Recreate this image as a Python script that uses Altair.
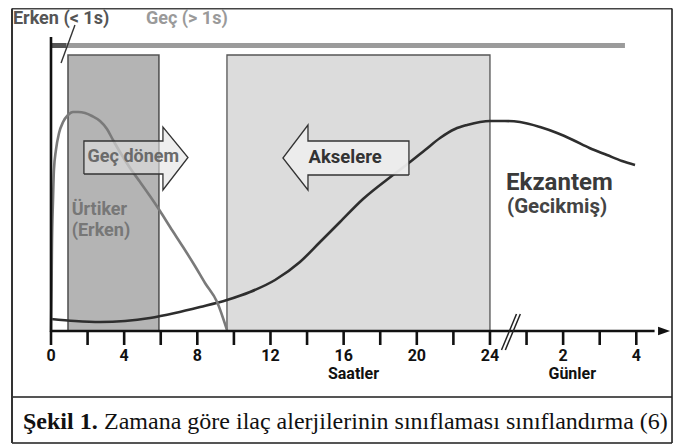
import altair as alt
import pandas as pd

# ---- values ----
# x: hours (0-24); after the axis break the days are drawn 2 units per day after 24
# y: relative intensity of the reaction
urt_x = [0, 0.03, 0.05, 0.11, 0.16, 0.27, 0.44, 0.66, 0.93, 1.20, 1.48, 1.86, 2.24,
         2.68, 3.06, 3.39, 3.77, 4.32, 4.87, 5.41, 5.96, 6.51, 7.22, 7.87, 8.42, 9.08, 9.62]
urt_y = [0, 41, 81, 131, 161, 181, 198, 209, 216, 219, 219, 218, 215,
         210, 202, 191, 179, 163, 149, 135, 120, 104, 84, 65, 48, 29, 1]

ekz_x = [0, 1.31, 2.68, 4.05, 5.41, 6.78, 8.15, 9.62, 10.88, 12.25, 13.61, 14.71, 15.80,
         17.06, 18.70, 19.63, 20.45, 21.27, 22.09, 22.75, 23.46, 24.0, 24.82, 25.64,
         26.74, 27.67, 28.54, 29.44, 30.40, 31.22, 31.93]
ekz_y = [12, 10, 9, 10, 13, 18, 24, 31, 39, 51, 69, 89, 109,
         132, 156, 169, 181, 193, 202, 206, 209, 210, 210, 209,
         204, 198, 191, 183, 176, 170, 166]

tick_pos = [0, 2, 4, 6, 8, 10, 12, 14, 16, 18, 20, 22, 24, 26, 28, 30, 32]
label_pos = [0, 4, 8, 12, 16, 20, 24, 28, 32]
label_txt = ["0", "4", "8", "12", "16", "20", "24", "2", "4"]

phase_names = ["Ürtiker", "Akselere"]
phase_start = [0.93, 9.62]
phase_end = [5.90, 24.0]
phase_top = 276

# ---- scales ----
xs = alt.Scale(domain=[-2.351, 34.007], nice=False, zero=False)
ys = alt.Scale(domain=[-114, 323], nice=False, zero=False)
X = lambda f: alt.X(f, type="quantitative", scale=xs, axis=None)
Y = lambda f: alt.Y(f, type="quantitative", scale=ys, axis=None)


def hrule(x1, x2, y, color, w, cap="butt"):
    df = pd.DataFrame({"x": [x1], "x2": [x2], "y": [y]})
    return alt.Chart(df).mark_rule(color=color, strokeWidth=w, strokeCap=cap).encode(
        x=X("x"), x2="x2", y=Y("y"))


def seg(x1, y1, x2, y2, color, w):
    df = pd.DataFrame({"x": [x1], "x2": [x2], "y": [y1], "y2": [y2]})
    return alt.Chart(df).mark_rule(color=color, strokeWidth=w).encode(
        x=X("x"), x2="x2", y=Y("y"), y2="y2")


def label(txt, x, y, size, color, align="left", weight="bold", font="Roboto"):
    df = pd.DataFrame({"x": [x], "y": [y], "t": [txt]})
    return alt.Chart(df).mark_text(align=align, baseline="middle", fontSize=size,
                                   font=font, fontWeight=weight, color=color).encode(
        x=X("x"), y=Y("y"), text="t:N")


# ---- phase rectangles ----
ph = pd.DataFrame({"name": phase_names, "x": phase_start, "x2": phase_end,
                   "y": [0, 0], "y2": [phase_top, phase_top]})
rect_dark = alt.Chart(ph[ph.name == "Ürtiker"]).mark_rect(
    fill="#b4b4b4", stroke="#555555", strokeWidth=1.6).encode(
    x=X("x"), x2="x2", y=Y("y"), y2="y2")
rect_light = alt.Chart(ph[ph.name == "Akselere"]).mark_rect(
    fill="#dcdcdc", stroke="#555555", strokeWidth=1.3).encode(
    x=X("x"), x2="x2", y=Y("y"), y2="y2")

# ---- curves ----
urt = alt.Chart(pd.DataFrame({"x": urt_x, "y": urt_y})).mark_line(
    color="#7a7a7a", strokeWidth=2.6, interpolate="monotone").encode(x=X("x"), y=Y("y"))
ekz = alt.Chart(pd.DataFrame({"x": ekz_x, "y": ekz_y})).mark_line(
    color="#2e2e2e", strokeWidth=2.6, interpolate="monotone").encode(x=X("x"), y=Y("y"))


# ---- block arrows ----
def block_arrow(x0, x1, tip, b_lo, b_hi, h_lo, h_hi, fill, op):
    mid = (b_lo + b_hi) / 2
    if tip > x1:
        area_df = pd.DataFrame({"x": [x0, x1, x1 + 0.001, tip],
                                "y": [b_lo, b_lo, h_lo, mid], "y2": [b_hi, b_hi, h_hi, mid]})
    else:
        area_df = pd.DataFrame({"x": [tip, x1 - 0.001, x1, x0],
                                "y": [mid, h_lo, b_lo, b_lo], "y2": [mid, h_hi, b_hi, b_hi]})
    outline = [(x0, b_lo), (x1, b_lo), (x1, h_lo), (tip, mid), (x1, h_hi),
               (x1, b_hi), (x0, b_hi), (x0, b_lo)]
    area = alt.Chart(area_df).mark_area(color=fill, opacity=op, interpolate="linear").encode(
        x=X("x"), y=Y("y"), y2="y2")
    ol = pd.DataFrame({"x": [p[0] for p in outline], "y": [p[1] for p in outline],
                       "o": list(range(len(outline)))})
    line = alt.Chart(ol).mark_line(color="#333333", strokeWidth=1.3).encode(
        x=X("x"), y=Y("y"), order="o:Q")
    return area + line


arrow_late = block_arrow(1.80, 6.12, 7.49, 157, 190, 141, 204, "#e2e2e2", 0.6)
arrow_acc = block_arrow(19.57, 14.05, 12.68, 156, 190, 141, 206, "#ececec", 0.95)

# ---- axes ----
ticks = alt.Chart(pd.DataFrame({"x": tick_pos, "y": [0] * len(tick_pos),
                                "y2": [-14] * len(tick_pos)})).mark_rule(
    color="#111111", strokeWidth=2.6).encode(x=X("x"), y=Y("y"), y2="y2")
tick_labels = alt.Chart(pd.DataFrame({"x": label_pos, "y": [-25] * len(label_pos),
                                      "t": label_txt})).mark_text(
    font="Roboto", fontWeight="bold", fontSize=16, color="#111111", baseline="middle").encode(
    x=X("x"), y=Y("y"), text="t:N")
x_axis = hrule(0, 33.0, 0, "#111111", 2.6)
y_axis = seg(0, -1, 0, 294, "#111111", 2.6)
arrow_head = alt.Chart(pd.DataFrame({"x": [33.52], "y": [0]})).mark_point(
    shape="M-1,-0.7L1,0L-1,0.7Z", size=144, filled=True, fill="#111111",
    opacity=1, strokeWidth=0).encode(x=X("x"), y=Y("y"))
brk1 = seg(24.63, -19, 25.45, 17, "#222222", 1.5)
brk2 = seg(24.84, -19, 25.66, 17, "#222222", 1.5)

# ---- top timeline bar ----
bar_light = hrule(0, 31.38, 285.5, "#9b9b9b", 5)
bar_dark = hrule(0, 0.82, 285.5, "#555555", 5)
pointer = seg(1.31, 306, 0.55, 268, "#333333", 1.4)

# ---- frame ----
frame = (hrule(-2.132, 33.953, 322.5, "#444444", 2) +
         hrule(-2.132, 33.953, -112, "#555555", 2) +
         hrule(-2.132, 33.953, -66, "#555555", 2) +
         seg(-2.132, -112, -2.132, 322.5, "#333333", 2) +
         seg(33.953, -112, 33.953, 322.5, "#222222", 1.6))

texts = (
    label("Erken (< 1s)", -2.08, 312, 18, "#555555") +
    label("Geç (> 1s)", 5.19, 312, 18, "#9a9a9a") +
    label("Geç dönem", 4.5, 174, 18, "#6a6a6a", align="center") +
    label("Akselere", 16.08, 174, 18.5, "#333333", align="center") +
    label("Ürtiker", 1.13, 121, 18, "#777777") +
    label("(Erken)", 1.13, 100, 18, "#777777") +
    label("Ekzantem", 24.88, 148, 24, "#3a3a3a") +
    label("(Gecikmiş)", 24.93, 124, 20.5, "#444444") +
    label("Saatler", 16.54, -43, 16, "#111111", align="center") +
    label("Günler", 28.5, -43, 16, "#111111", align="center") +
    label("Şekil 1.", -1.53, -91, 24, "#111111", font="Liberation Serif") +
    label("Zamana göre ilaç alerjilerinin sınıflaması sınıflandırma (6)", 2.90, -91, 24,
          "#111111", weight="normal", font="Liberation Serif")
)

chart = alt.layer(
    rect_light, rect_dark, ekz, urt, arrow_late, arrow_acc,
    bar_light, bar_dark, pointer, x_axis, y_axis, ticks, arrow_head, brk1, brk2,
    tick_labels, texts, frame
).properties(
    width=665, height=437, autosize=alt.AutoSizeParams(type="none"), padding=0,
    background="white"
).configure_view(strokeWidth=0)

chart.save("out.html", embed_options={"renderer": "svg", "actions": False})
